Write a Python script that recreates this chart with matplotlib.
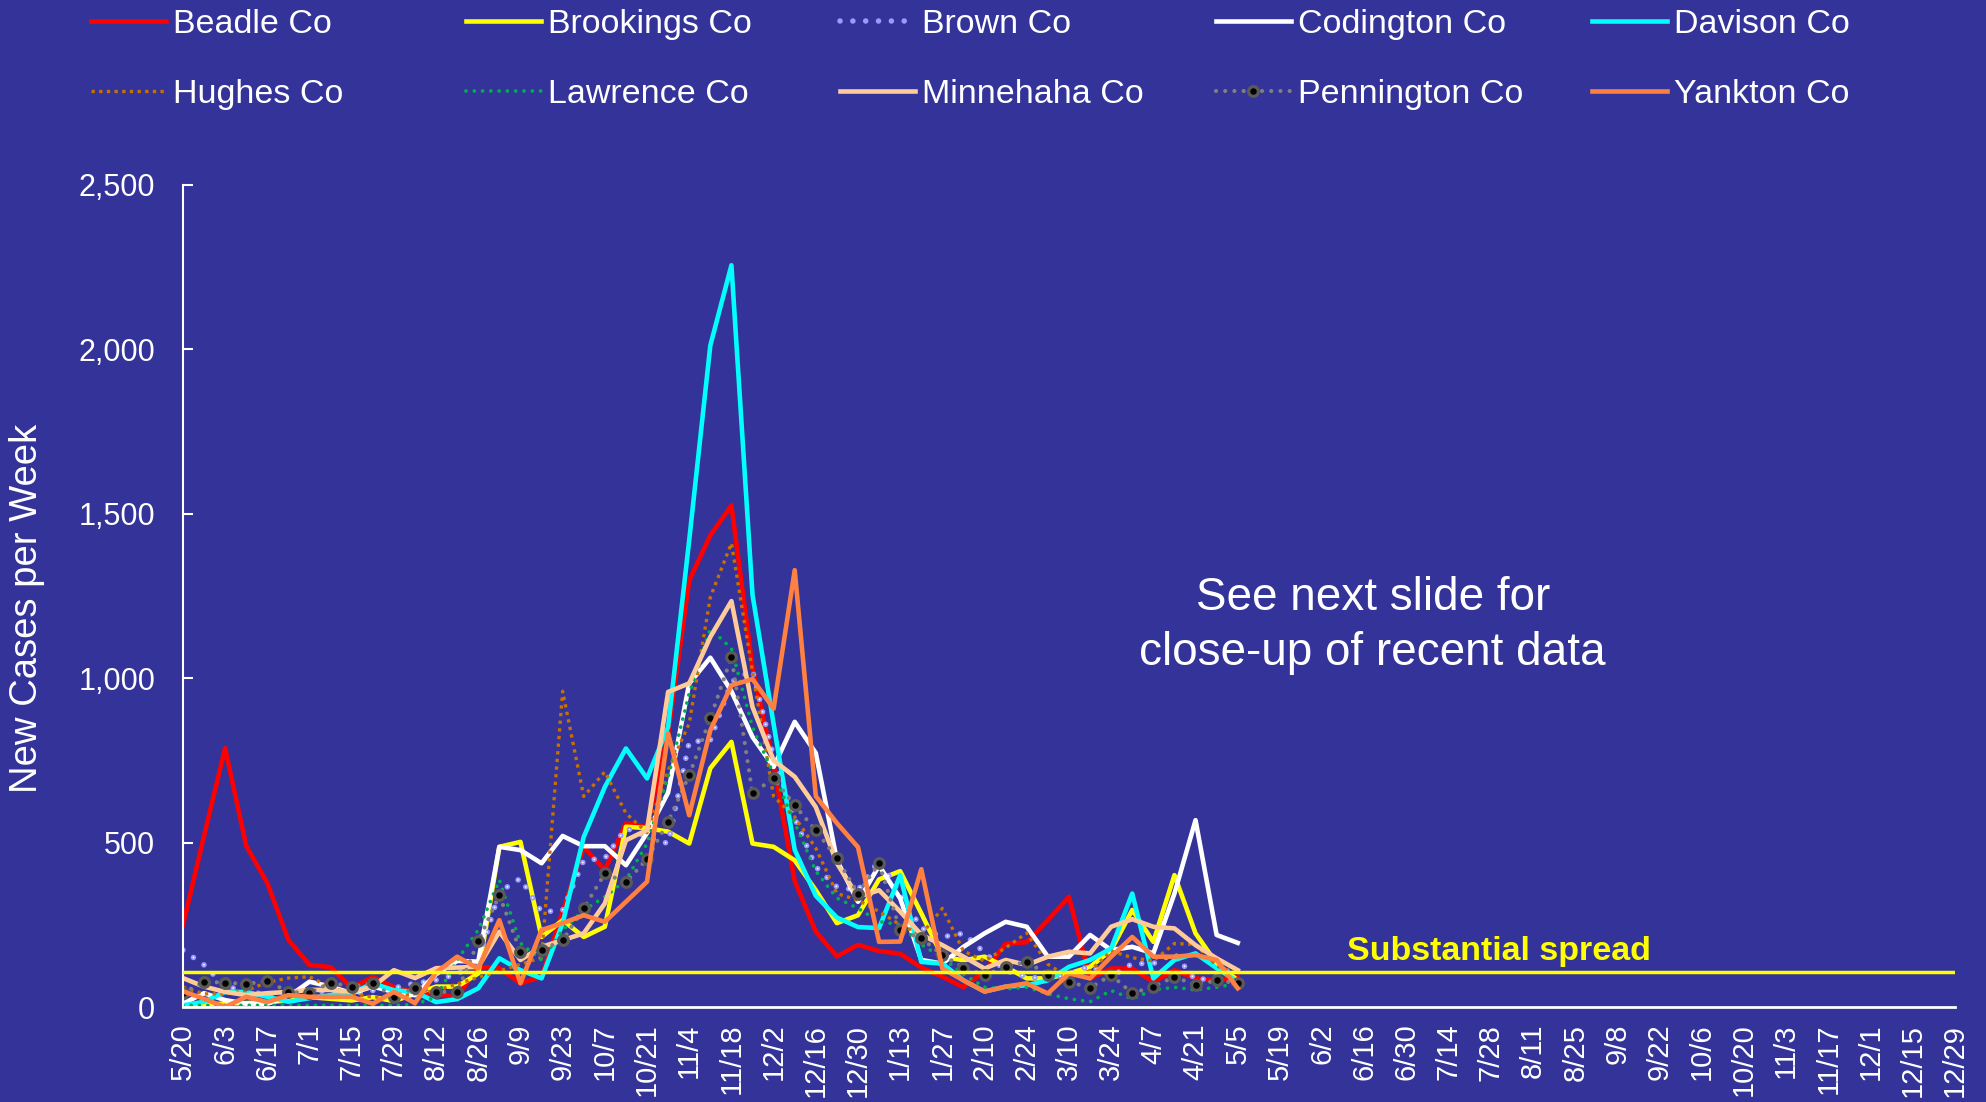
import numpy as np
import matplotlib.pyplot as plt
from matplotlib.ticker import FuncFormatter

plt.rcParams['font.family'] = ['Liberation Sans', 'DejaVu Sans']

# x axis: one point per week starting 5/20, labels every 2nd week
tick_labels = ["5/20", "6/3", "6/17", "7/1", "7/15", "7/29", "8/12", "8/26", "9/9",
               "9/23", "10/7", "10/21", "11/4", "11/18", "12/2", "12/16", "12/30",
               "1/13", "1/27", "2/10", "2/24", "3/10", "3/24", "4/7", "4/21", "5/5",
               "5/19", "6/2", "6/16", "6/30", "7/14", "7/28", "8/11", "8/25", "9/8",
               "9/22", "10/6", "10/20", "11/3", "11/17", "12/1", "12/15", "12/29"]

# new cases per week
beadle = [249, 520, 787, 490, 377, 204, 128, 121, 58, 91, 61, 45, 38, 31, 122, 118, 72,
          92, 290, 487, 416, 559, 547, 832, 1297, 1434, 1525, 1031, 735, 383, 229, 154,
          189, 170, 162, 120, 92, 60, 108, 192, 197, 264, 335, 87, 117, 117, 76, 112, 87,
          81, 92]
brookings = [5, 8, 10, 12, 15, 20, 30, 25, 20, 30, 18, 40, 62, 62, 102, 487, 502, 213,
             264, 213, 244, 548, 544, 533, 497, 726, 806, 497, 487, 446, 355, 255, 279,
             388, 413, 285, 153, 142, 153, 122, 87, 87, 102, 122, 173, 295, 198, 401, 224,
             132, 81]
brown = [173, 128, 62, 50, 36, 45, 50, 45, 40, 50, 58, 72, 82, 100, 140, 350, 391, 289,
         294, 446, 452, 544, 517, 497, 806, 811, 988, 1024, 760, 574, 426, 365, 355, 446,
         345, 240, 213, 224, 165, 110, 92, 85, 100, 125, 92, 132, 132, 163, 81, 92, 128]
codington = [10, 42, 21, 10, 10, 31, 77, 62, 42, 62, 46, 36, 100, 140, 138, 487, 477,
             437, 520, 489, 489, 431, 529, 652, 984, 1062, 960, 821, 730, 867, 772, 446,
             320, 430, 330, 143, 132, 183, 224, 259, 244, 153, 153, 219, 173, 183, 163,
             345, 568, 219, 195]
davison = [5, 16, 46, 46, 31, 16, 27, 36, 42, 72, 51, 46, 15, 24, 57, 148, 112, 87, 255,
           517, 669, 786, 695, 852, 1420, 2011, 2255, 1253, 860, 478, 338, 272, 243, 240,
           401, 137, 132, 81, 47, 62, 66, 81, 122, 143, 178, 345, 87, 143, 163, 118, 77]
hughes = [60, 40, 40, 50, 75, 88, 92, 60, 40, 30, 30, 40, 50, 70, 90, 110, 130, 150, 960,
          640, 715, 589, 530, 720, 862, 1246, 1410, 1018, 640, 578, 483, 345, 325, 290,
          250, 220, 300, 170, 140, 180, 225, 130, 90, 110, 170, 150, 140, 193, 190, 125,
          100]
lawrence = [5, 5, 5, 5, 5, 5, 5, 5, 5, 5, 5, 8, 30, 143, 234, 386, 194, 143, 234, 294,
            335, 386, 497, 700, 953, 1150, 1090, 850, 708, 560, 413, 331, 300, 260, 250,
            190, 150, 100, 60, 55, 60, 40, 25, 16, 50, 25, 52, 60, 52, 60, 72]
minnehaha = [88, 62, 46, 36, 42, 46, 52, 52, 46, 62, 112, 88, 118, 120, 122, 229, 143,
             183, 203, 224, 315, 507, 538, 958, 984, 1125, 1234, 912, 750, 700, 608, 437,
             335, 355, 290, 220, 188, 153, 117, 143, 128, 153, 168, 163, 244, 267, 244,
             239, 188, 148, 112]
pennington = [42, 77, 74, 70, 79, 46, 43, 74, 62, 72, 31, 58, 46, 46, 200, 340, 168, 173,
              203, 300, 406, 379, 450, 563, 705, 878, 1064, 650, 695, 613, 537, 452, 345,
              437, 233, 209, 158, 120, 97, 122, 138, 97, 77, 58, 97, 42, 62, 92, 67, 81, 72]
yankton = [48, 25, 0, 31, 15, 36, 31, 31, 31, 10, 46, 12, 105, 153, 117, 264, 72, 234,
           255, 279, 259, 320, 381, 832, 583, 841, 978, 997, 907, 1328, 641, 559, 486, 198,
           199, 419, 117, 81, 47, 62, 72, 41, 102, 87, 153, 213, 153, 153, 158, 143, 57]

substantial = 107

BG = '#333399'
fig = plt.figure(figsize=(19.86, 11.02), dpi=100, facecolor=BG)
ax = fig.add_axes([0.0921, 0.0862, 0.8923, 0.7462], facecolor=BG)

def wk(vals):
    return np.arange(len(vals))

LW = 3.3
h = {}
h['Beadle Co'], = ax.plot(wk(beadle), beadle, color='#FF0000', lw=LW)
h['Brookings Co'], = ax.plot(wk(brookings), brookings, color='#FFFF00', lw=LW)
h['Brown Co'], = ax.plot(wk(brown), brown, color='#9999FF', lw=4.0,
                         ls=(0, (0.01, 2.3)), dash_capstyle='round')
ax.plot(wk(brown), brown, color='white', lw=1.3,
        ls=(0, (0.01 * 4.0 / 1.3, 2.3 * 4.0 / 1.3)), dash_capstyle='round')
h['Codington Co'], = ax.plot(wk(codington), codington, color='white', lw=LW)
h['Davison Co'], = ax.plot(wk(davison), davison, color='#00FFFF', lw=LW)
h['Hughes Co'], = ax.plot(wk(hughes), hughes, color='#C87000', lw=2.4,
                          ls=(0, (1, 1.3)))
h['Lawrence Co'], = ax.plot(wk(lawrence), lawrence, color='#00B050', lw=2.7,
                            ls=(0, (0.01, 2.2)), dash_capstyle='round')
h['Minnehaha Co'], = ax.plot(wk(minnehaha), minnehaha, color='#FFCC99', lw=LW)
h['Pennington Co'], = ax.plot(wk(pennington), pennington, color='#808080', lw=3.0,
                              ls=(0, (0.01, 2.2)), dash_capstyle='round',
                              marker='o', ms=7, mfc='black', mec='#5a5a5a', mew=2.3)
h['Yankton Co'], = ax.plot(wk(yankton), yankton, color='#FF8040', lw=LW)

ax.axhline(substantial, color='#FFFF00', lw=2.5, zorder=5)
ax.text(62.4, 168, "Substantial spread", color='#FFFF00', fontsize=24.5,
        fontweight='bold', ha='center', va='center')
ax.text(56.4, 1160, "See next slide for\nclose-up of recent data", color='white',
        fontsize=33, ha='center', va='center', linespacing=1.35)

ax.set_xlim(0, 84)
ax.set_ylim(0, 2500)
ax.set_xticks(np.arange(0, 85, 2))
ax.set_xticklabels(tick_labels, rotation=90, fontsize=21, color='white')
ax.tick_params(axis='x', length=0, pad=12)
ax.set_yticks(np.arange(0, 2501, 500))
ax.yaxis.set_major_formatter(FuncFormatter(lambda v, p: f"{int(v):,}"))
ax.tick_params(axis='y', direction='in', length=7, width=1.5, color='white',
               labelcolor='white', labelsize=22, pad=20)
for s in ['top', 'right']:
    ax.spines[s].set_visible(False)
ax.spines['left'].set_color('white')
ax.spines['left'].set_linewidth(1.5)
ax.spines['bottom'].set_color('white')
ax.spines['bottom'].set_linewidth(2)
ax.set_ylabel("New Cases per Week", color='white', fontsize=27.5)
ax.yaxis.set_label_coords(-0.078, 0.485)

# legend: 5 columns of two entries each, evenly spaced like the slide
columns = [["Beadle Co", "Hughes Co"], ["Brookings Co", "Lawrence Co"],
           ["Brown Co", "Minnehaha Co"], ["Codington Co", "Pennington Co"],
           ["Davison Co", "Yankton Co"]]
col_x = [91, 466, 840, 1216, 1592]
for cx, names in zip(col_x, columns):
    fig.legend([h[n] for n in names], names, loc='upper left',
               bbox_to_anchor=(cx / 1986, 1 - 9 / 1102), frameon=False,
               fontsize=24.5, labelcolor='white', handlelength=2.2,
               handletextpad=0.2, borderaxespad=0, borderpad=0, labelspacing=1.15)

fig.savefig('out.png', dpi=100, facecolor=BG)
